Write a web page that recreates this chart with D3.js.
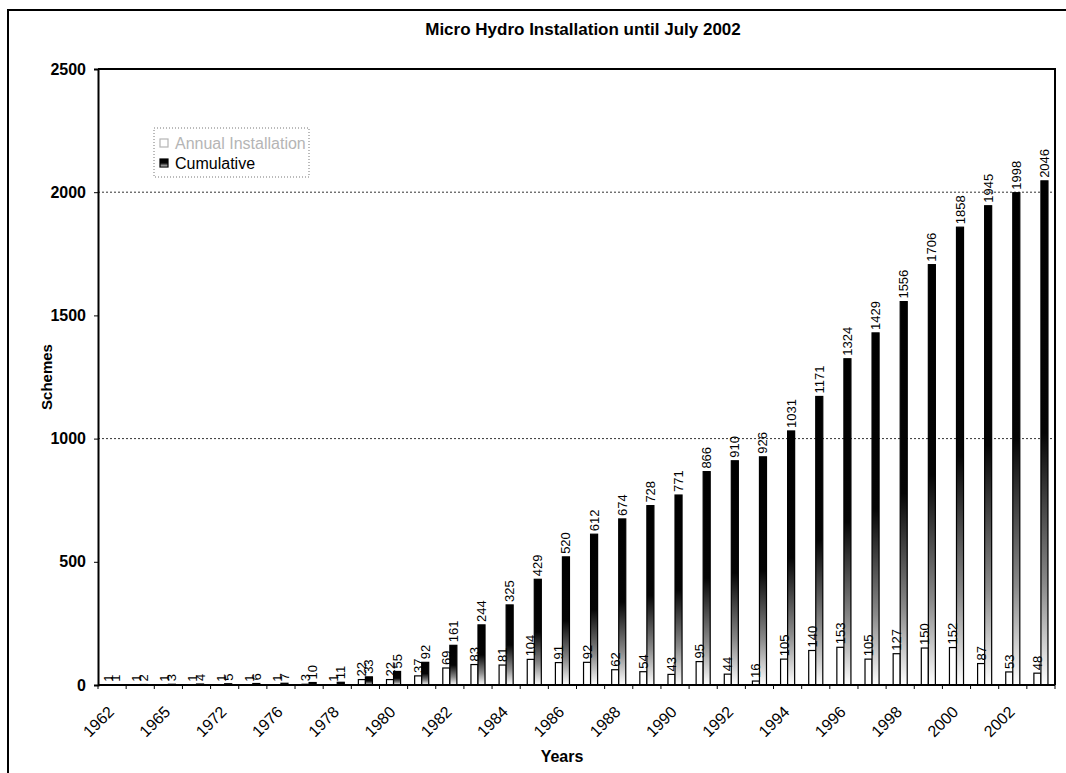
<!DOCTYPE html>
<html>
<head>
<meta charset="utf-8">
<script src="https://cdn.jsdelivr.net/npm/d3@7"></script>
<style>
  html, body { margin: 0; padding: 0; background: #fff; }
  svg { display: block; font-family: "Liberation Sans", Arial, sans-serif; }
</style>
</head>
<body>
<svg id="chart" width="1066" height="773"></svg>
<script>
// Categories (only every second one is labelled on the axis)
const years = ["1962","1963","1965","1970","1972","1974","1976","1977","1978","1979",
               "1980","1981","1982","1983","1984","1985","1986","1987","1988","1989",
               "1990","1991","1992","1993","1994","1995","1996","1997","1998","1999",
               "2000","2001","2002","2003"];
// Schemes installed in each year
const annual = [1,1,1,1,1,1,1,3,1,22,
                22,37,69,83,81,104,91,92,62,54,
                43,95,44,16,105,140,153,105,127,150,
                152,87,53,48];
// Running total of schemes
const cumulative = [1,2,3,4,5,6,7,10,11,33,
                    55,92,161,244,325,429,520,612,674,728,
                    771,866,910,926,1031,1171,1324,1429,1556,1706,
                    1858,1945,1998,2046];
const yTicks = [0, 500, 1000, 1500, 2000, 2500];
const gridValues = [1000, 2000];
const seriesNames = ["Annual Installation", "Cumulative"];
const titleText = "Micro Hydro Installation until July 2002";

const svg = d3.select("#chart");
const plot = { left: 98, right: 1055, top: 69, bottom: 685 };

// gradient for the cumulative bars: black at the top fading to white
const defs = svg.append("defs");
const grad = defs.append("linearGradient").attr("id", "cumFill")
  .attr("x1", 0).attr("y1", 0).attr("x2", 0).attr("y2", 1);
grad.append("stop").attr("offset", "0").attr("stop-color", "#000");
grad.append("stop").attr("offset", "0.5").attr("stop-color", "#050505");
grad.append("stop").attr("offset", "0.8").attr("stop-color", "#8a8a8a");
grad.append("stop").attr("offset", "1").attr("stop-color", "#fff");

// outer chart frame
svg.append("path")
  .attr("d", "M8,773 V10 H1066")
  .attr("fill", "none").attr("stroke", "#000").attr("stroke-width", 2);

const x = d3.scaleBand().domain(d3.range(years.length))
  .range([plot.left, plot.right]).paddingInner(0).paddingOuter(0);
const y = d3.scaleLinear().domain([0, 2500]).range([plot.bottom, plot.top]);
const barW = x.bandwidth() * 0.25;
const cx = i => x(i) + x.bandwidth() / 2;

// gridlines
svg.append("g").selectAll("line").data(gridValues).join("line")
  .attr("x1", plot.left).attr("x2", plot.right)
  .attr("y1", d => y(d)).attr("y2", d => y(d))
  .attr("stroke", "#333").attr("stroke-width", 1)
  .attr("stroke-dasharray", "2,2");

// plot-area border (top and right)
svg.append("path")
  .attr("d", `M${plot.left},${plot.top} H${plot.right} V${plot.bottom}`)
  .attr("fill", "none").attr("stroke", "#000").attr("stroke-width", 2);

// annual bars
svg.append("g").selectAll("rect").data(annual).join("rect")
  .attr("x", (d, i) => cx(i) - barW)
  .attr("y", d => y(d))
  .attr("width", barW)
  .attr("height", d => y(0) - y(d))
  .attr("fill", "#fff").attr("stroke", "#000").attr("stroke-width", 1.2);

// cumulative bars
svg.append("g").selectAll("rect").data(cumulative).join("rect")
  .attr("x", (d, i) => cx(i))
  .attr("y", d => y(d))
  .attr("width", barW)
  .attr("height", d => y(0) - y(d))
  .attr("fill", "url(#cumFill)").attr("stroke", "#000").attr("stroke-width", 1.2);

// value labels, rotated
function labels(data, dx) {
  svg.append("g").selectAll("text").data(data).join("text")
    .attr("transform", (d, i) => `translate(${cx(i) + dx},${y(d) - 3}) rotate(-90)`)
    .attr("text-anchor", "start")
    .attr("dominant-baseline", "central")
    .attr("font-size", 13)
    .attr("fill", "#000")
    .text(d => d);
}
labels(annual, -barW / 2);
labels(cumulative, barW / 2);

// y axis
const yAxis = svg.append("g").attr("transform", `translate(${plot.left},0)`)
  .call(d3.axisLeft(y).tickValues(yTicks).tickFormat(d3.format("d")).tickSize(4).tickPadding(8));
yAxis.select(".domain").attr("stroke", "#000").attr("stroke-width", 2);
yAxis.selectAll(".tick line").attr("stroke", "#000");
yAxis.selectAll(".tick text").attr("font-size", 16).attr("font-weight", "bold")
  .attr("font-family", "'Liberation Sans', Arial, sans-serif").attr("fill", "#000");

// x axis: ticks at category boundaries, labels on every second category
const xg = svg.append("g");
xg.append("line").attr("x1", plot.left).attr("x2", plot.right)
  .attr("y1", plot.bottom).attr("y2", plot.bottom)
  .attr("stroke", "#000").attr("stroke-width", 2);
xg.selectAll("line.tk").data(d3.range(years.length + 1)).join("line")
  .attr("class", "tk")
  .attr("x1", i => i < years.length ? x(i) : plot.right)
  .attr("x2", i => i < years.length ? x(i) : plot.right)
  .attr("y1", plot.bottom).attr("y2", plot.bottom + 4)
  .attr("stroke", "#000");
xg.selectAll("text").data(years.map((t, i) => ({ t, i })).filter(d => d.i % 2 === 0))
  .join("text")
  .attr("transform", d => `translate(${cx(d.i) - 1},${plot.bottom + 24}) rotate(-45)`)
  .attr("text-anchor", "end")
  .attr("dominant-baseline", "central")
  .attr("font-size", 16)
  .attr("fill", "#000")
  .text(d => d.t);

// titles
svg.append("text").attr("x", 583).attr("y", 35).attr("text-anchor", "middle")
  .attr("font-size", 17).attr("font-weight", "bold").text(titleText);
svg.append("text").attr("transform", "translate(52,377) rotate(-90)")
  .attr("text-anchor", "middle").attr("font-size", 15).attr("font-weight", "bold")
  .text("Schemes");
svg.append("text").attr("x", 562).attr("y", 762).attr("text-anchor", "middle")
  .attr("font-size", 16).attr("font-weight", "bold").text("Years");

// legend
const lg = svg.append("g");
lg.append("rect").attr("x", 154).attr("y", 128).attr("width", 155).attr("height", 49)
  .attr("fill", "#fff").attr("stroke", "#777").attr("stroke-dasharray", "1,2");
const entries = [
  { name: seriesNames[0], fill: "#fff", color: "#b5b5b5", yy: 143 },
  { name: seriesNames[1], fill: "url(#cumFill)", color: "#000", yy: 163 }
];
entries.forEach(e => {
  lg.append("rect").attr("x", 160).attr("y", e.yy - 4).attr("width", 8).attr("height", 8)
    .attr("fill", e.fill).attr("stroke", e.color).attr("stroke-width", 1.2);
  lg.append("text").attr("x", 175).attr("y", e.yy).attr("dominant-baseline", "central")
    .attr("font-size", 16).attr("fill", e.color).text(e.name);
});
</script>
</body>
</html>
